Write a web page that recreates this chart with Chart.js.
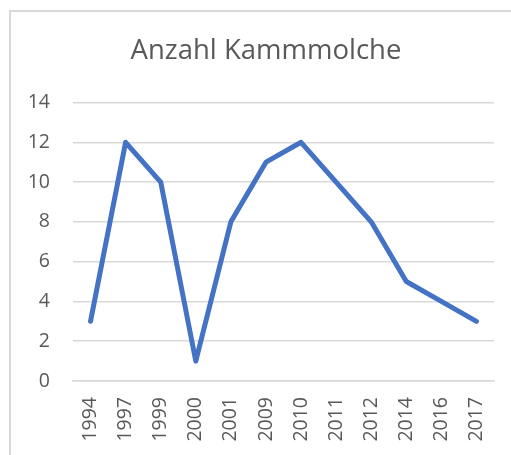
<html lang=de>
	<head>
		<title>Anzahl Kammmolche</title>
		<meta http-equiv="content-type" content="text/html; charset=utf-8" />
		<script type="text/javascript" src="https://cdn.jsdelivr.net/npm/chart.js"></script>
		<style>
			html, body { margin: 0; padding: 0; background: #fff; overflow: hidden; width: 511px; height: 455px; }
			#frame { position: absolute; left: 9px; top: 10px; width: 540px; height: 480px;
				border-left: 2px solid #d9d9d9; border-top: 2px solid #d9d9d9; }
			#myChart { position: absolute; left: 0; top: 0; }
		</style>
	</head>
	<body>
	<!--chart frame (Excel look)-->
		<div id="frame"></div>
		<canvas id="myChart" width="511" height="455"></canvas>
		<script>
		var jahre = ["1994", "1997", "1999", "2000", "2001", "2009", "2010", "2011", "2012", "2014", "2016", "2017"];
		var anzahl = [3, 12, 10, 1, 8, 11, 12, 10, 8, 5, 4, 3];
		var yTicks = [0, 2, 4, 6, 8, 10, 12, 14];

		var grau = '#595959';
		var linie = '#d9d9d9';

		// Excel centres the title a bit further right than Chart.js does
		var titelVerschieben = {
			id: 'titelVerschieben',
			afterLayout: function (chart) {
				if (chart.titleBlock) { chart.titleBlock.left = 38; }
			}
		};

		var ctx = document.getElementById("myChart");
		var myChart = new Chart(ctx, {
			type: 'line',
			data: {
				labels: jahre,
				datasets: [{
					label: 'Anzahl Kammmolche',
					data: anzahl,
					borderColor: '#4472c4',
					backgroundColor: '#4472c4',
					borderWidth: 5,
					borderCapStyle: 'round',
					borderJoinStyle: 'round',
					pointRadius: 0,
					tension: 0
				}]
			},
			options: {
				responsive: false,
				animation: false,
				layout: { padding: { left: 0, right: 17, top: 0, bottom: 0 } },
				plugins: {
					legend: { display: false },
					tooltip: { enabled: false },
					title: {
						display: true,
						text: 'Anzahl Kammmolche',
						color: grau,
						font: { family: 'Open Sans', size: 27.5, weight: 'normal' },
						padding: { top: 35, bottom: 34.5 }
					}
				},
				scales: {
					x: {
						offset: true,
						grid: { display: false, drawTicks: false },
						border: { display: true, color: linie, width: 1.5 },
						ticks: {
							color: grau,
							font: { family: 'Open Sans', size: 19.5 },
							minRotation: 90,
							maxRotation: 90,
							autoSkip: false,
							padding: 16
						},
						afterFit: function (scale) {
							scale.height = 74;
							scale.paddingLeft = 0;
							scale.paddingRight = 0;
						}
					},
					y: {
						min: yTicks[0],
						max: yTicks[yTicks.length - 1],
						grid: { color: linie, lineWidth: 1.5, drawTicks: false },
						border: { display: false },
						ticks: {
							stepSize: 2,
							color: grau,
							font: { family: 'Open Sans', size: 19.5 },
							padding: 23
						},
						afterFit: function (scale) { scale.width = 73; }
					}
				}
			},
			plugins: [titelVerschieben]
		});
		</script>
	</body>
</html>
